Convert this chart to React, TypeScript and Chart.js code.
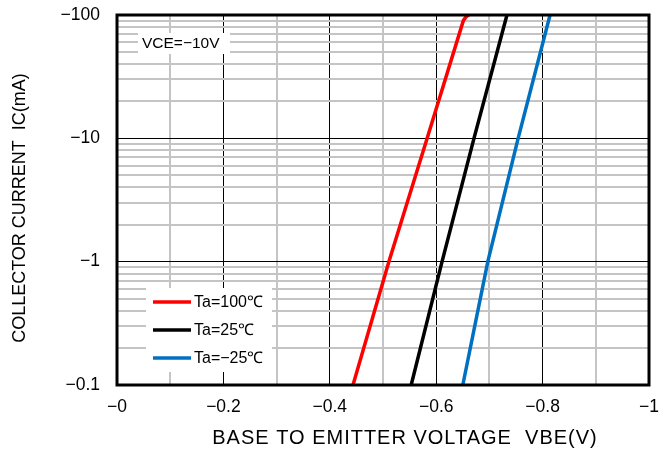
import React, { useEffect, useRef } from "react";
import { Chart, registerables } from "chart.js";

Chart.register(...registerables);

// Data (VBE in volts, IC in mA; displayed with minus signs)
const icRed = [0.1, 1, 10, 90, 96, 99, 100];
const vbeRed = [-0.4436, -0.511, -0.583, -0.651, -0.6555, -0.659, -0.662];
const icBlack = [0.1, 1, 10, 100];
const vbeBlack = [-0.553, -0.611, -0.671, -0.733];
const icBlue = [0.1, 1, 10, 100];
const vbeBlue = [-0.65, -0.697, -0.754, -0.814];

const seriesLabels = ["Ta=100\u2103", "Ta=25\u2103", "Ta=\u221225\u2103"];
const seriesColors = ["#ff0000", "#000000", "#0070c0"];
const yTickValues = [0.1, 0.2, 0.3, 0.4, 0.5, 0.6, 0.7, 0.8, 0.9, 1, 2, 3, 4, 5, 6, 7, 8, 9, 10, 20, 30, 40, 50, 60, 70, 80, 90, 100];
const yMajorTicks = [0.1, 1, 10, 100];
const xTitle = "BASE TO EMITTER VOLTAGE  VBE(V)";
const yTitle = "COLLECTOR CURRENT  IC(mA)";
const conditionText = "VCE=\u221210V";

const FONT = '"Liberation Sans", Arial, sans-serif';

const toPoints = (xs: number[], ys: number[]) => xs.map((x, i) => ({ x, y: ys[i] }));

const isMajorY = (v: number) => yMajorTicks.some((m) => Math.abs(m - v) < 1e-9);
const isMajorX = (v: number) => Math.round(Math.abs(v) * 10) % 2 === 0;

const fmtX = (v: number) => {
  const a = Math.abs(v);
  const s = Math.round(a * 10) / 10;
  return "\u2212" + String(s);
};

const overlayPlugin = {
  id: "overlay",
  afterDatasetsDraw(chart: any) {
    const { ctx, chartArea: a } = chart;
    ctx.save();
    // condition box
    ctx.fillStyle = "#fff";
    ctx.fillRect(a.left + 21, a.top + 18, 92, 21);
    ctx.fillStyle = "#000";
    ctx.font = `15.5px ${FONT}`;
    ctx.textBaseline = "middle";
    ctx.textAlign = "left";
    ctx.fillText(conditionText, a.left + 25, a.top + 29);

    // legend box
    const lx = a.left + 29;
    const ly = a.bottom - 97;
    ctx.fillStyle = "#fff";
    ctx.fillRect(lx, ly, 126, 84);
    chart.data.datasets.forEach((ds: any, i: number) => {
      const y = ly + 14 + i * 28;
      ctx.strokeStyle = ds.borderColor;
      ctx.lineWidth = 3.5;
      ctx.beginPath();
      ctx.moveTo(lx + 7, y);
      ctx.lineTo(lx + 45, y);
      ctx.stroke();
      ctx.fillStyle = "#000";
      ctx.font = `16px ${FONT}`;
      ctx.fillText(ds.label, lx + 48, y + 1);
    });

    // plot border
    ctx.strokeStyle = "#000";
    ctx.lineWidth = 3;
    ctx.strokeRect(a.left, a.top, a.right - a.left, a.bottom - a.top);
    ctx.restore();
  },
  afterDraw(chart: any) {
    const { ctx } = chart;
    ctx.save();
    ctx.fillStyle = "#000";
    ctx.textAlign = "center";
    ctx.textBaseline = "middle";
    ctx.font = `20px ${FONT}`;
    (ctx as any).letterSpacing = "1px";
    ctx.fillText(xTitle, 405, 438);
    (ctx as any).letterSpacing = "0px";
    ctx.translate(20, 208);
    ctx.rotate(-Math.PI / 2);
    ctx.font = `18px ${FONT}`;
    ctx.fillText(yTitle, 0, 0);
    ctx.restore();
  },
};

export default function App() {
  const ref = useRef<HTMLCanvasElement | null>(null);
  useEffect(() => {
    if (!ref.current) return;
    const chart = new Chart(ref.current, {
      type: "line",
      data: {
        datasets: [
          { label: seriesLabels[0], data: toPoints(vbeRed, icRed), borderColor: seriesColors[0] },
          { label: seriesLabels[1], data: toPoints(vbeBlack, icBlack), borderColor: seriesColors[1] },
          { label: seriesLabels[2], data: toPoints(vbeBlue, icBlue), borderColor: seriesColors[2] },
        ].map((d) => ({ ...d, borderWidth: 3.5, pointRadius: 0, fill: false, tension: 0 })),
      },
      options: {
        animation: false,
        responsive: false,
        maintainAspectRatio: false,
        layout: { padding: { top: 15, right: 23, left: 0, bottom: 0 } },
        plugins: { legend: { display: false }, tooltip: { enabled: false } },
        scales: {
          x: {
            type: "linear",
            min: -1,
            max: 0,
            reverse: true,
            afterFit: (s: any) => {
              s.height = 67;
              s.paddingLeft = 0;
              s.paddingRight = 0;
            },
            border: { display: false },
            grid: {
              drawTicks: false,
              color: (c: any) => (isMajorX(c.tick.value) ? "#000" : "#c4c4c4"),
              lineWidth: (c: any) => (isMajorX(c.tick.value) ? 1 : 2),
            },
            ticks: {
              stepSize: 0.1,
              autoSkip: false,
              maxRotation: 0,
              padding: 12,
              color: "#000",
              font: { family: FONT, size: 17.5 },
              callback: (v: any) => (isMajorX(Number(v)) ? fmtX(Number(v)) : ""),
            },
          },
          y: {
            type: "logarithmic",
            min: 0.1,
            max: 100,
            afterFit: (s: any) => {
              s.width = 117;
              s.paddingTop = 0;
              s.paddingBottom = 0;
            },
            afterBuildTicks: (s: any) => {
              s.ticks = yTickValues.map((v) => ({ value: v, major: isMajorY(v) }));
            },
            border: { display: false },
            grid: {
              drawTicks: false,
              color: (c: any) => (isMajorY(c.tick.value) ? "#000" : "#c4c4c4"),
              lineWidth: (c: any) => (isMajorY(c.tick.value) ? 1 : 2),
            },
            ticks: {
              autoSkip: false,
              padding: 17,
              color: "#000",
              font: { family: FONT, size: 17.5 },
              callback: (v: any) => (isMajorY(Number(v)) ? "\u2212" + String(Number(v)) : ""),
            },
          },
        },
      },
      plugins: [overlayPlugin],
    });
    return () => chart.destroy();
  }, []);
  return (
    <div style={{ position: "fixed", left: 0, top: 0, width: 672, height: 452, background: "#fff" }}>
      <canvas ref={ref} width={672} height={452} style={{ width: 672, height: 452, display: "block" }} />
    </div>
  );
}
